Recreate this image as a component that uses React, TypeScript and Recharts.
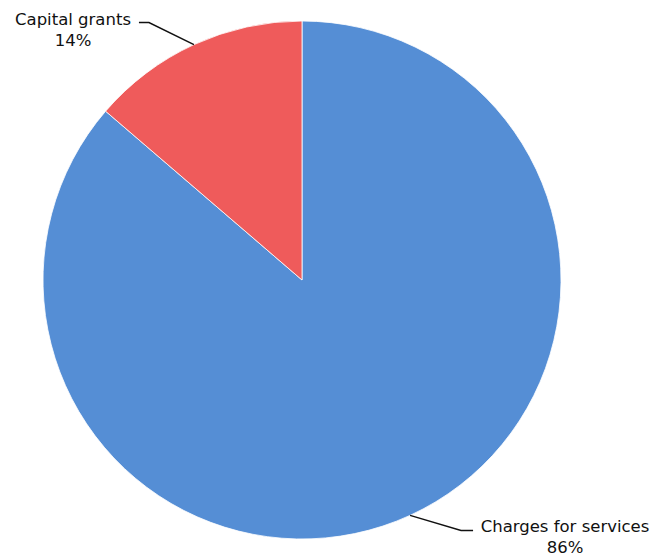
import { PieChart, Pie, Cell } from "recharts";

const categories = ["Charges for services", "Capital grants"];
const shares = [86.3, 13.7];
const colors = ["#558ED5", "#EF5B5B"];

const data = categories.map((name, i) => ({ name, value: shares[i] }));

const RADIAN = Math.PI / 180;

// leader line elbow offset from the arc point, plus text block placement
const leaders = [
    { dx: 51, dy: 15, tail: 12, textX: 565, textY: 532 },
    { dx: -45, dy: -22, tail: -10, textX: 73, textY: 25 },
];

function renderLabel(props: any) {
    const { cx, cy, midAngle, outerRadius, index, name, percent } = props;
    const l = leaders[index];
    const x0 = cx + outerRadius * Math.cos(-midAngle * RADIAN);
    const y0 = cy + outerRadius * Math.sin(-midAngle * RADIAN);
    const x1 = x0 + l.dx;
    const y1 = y0 + l.dy;
    const x2 = x1 + l.tail;
    return (
        <g>
            <polyline points={`${x0},${y0} ${x1},${y1} ${x2},${y1}`} fill="none" stroke="#111" strokeWidth={1.5} />
            <text x={l.textX} y={l.textY} textAnchor="middle" fill="#111" fontSize={16.5} fontFamily="DejaVu Sans">
                {name}
            </text>
            <text x={l.textX} y={l.textY + 21} textAnchor="middle" fill="#111" fontSize={16.5} fontFamily="DejaVu Sans">
                {`${Math.round(percent * 100)}%`}
            </text>
        </g>
    );
}

export default function App() {
    return (
        <div style={{ position: "absolute", left: 0, top: 0, width: 654, height: 559, background: "#fff" }}>
            <PieChart width={654} height={559} margin={{ top: 0, right: 0, bottom: 0, left: 0 }}>
                <Pie
                    data={data}
                    dataKey="value"
                    cx={302}
                    cy={280}
                    outerRadius={259}
                    startAngle={90}
                    endAngle={-270}
                    stroke="#fff"
                    strokeWidth={0.8}
                    labelLine={false}
                    label={renderLabel}
                    isAnimationActive={false}
                >
                    {data.map((entry, index) => (
                        <Cell key={`cell-${index}`} fill={colors[index]} />
                    ))}
                </Pie>
            </PieChart>
        </div>
    );
}
